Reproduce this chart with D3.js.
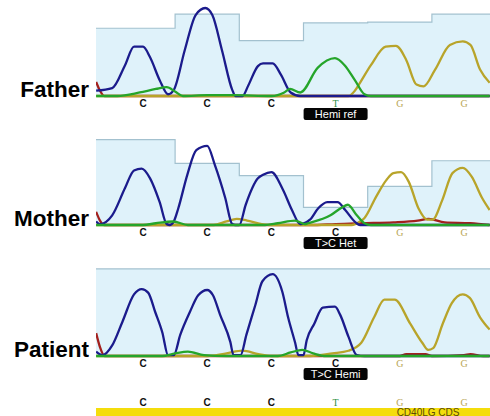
<!DOCTYPE html>
<html>
<head>
<meta charset="utf-8">
<script src="https://cdn.jsdelivr.net/npm/d3@7"></script>
<style>
  html, body { margin: 0; padding: 0; background: #fff; }
  svg { display: block; }
</style>
</head>
<body>
<svg id="chromatogram-svg" width="490" height="416"></svg>
<script>
(function() {
    // base positions (1 = first called base in the window)
    const positions = [1, 2, 3, 4, 5, 6];
    const refCalls = ["C", "C", "C", "T", "G", "G"];
    const fatherCalls = ["C", "C", "C", "T", "G", "G"];
    const motherCalls = ["C", "C", "C", "C", "G", "G"];
    const patientCalls = ["C", "C", "C", "C", "G", "G"];

    // quality bars, one per base
    const fatherQuality = [77, 93, 63, 83, 84, 93];
    const motherQuality = [97, 70, 56, 20, 44, 73];
    const patientQuality = [99, 99, 99, 99, 99, 99];

    // traces: [base position, signal 0-100]
    const fatherC = [[0.27,6],[0.52,9],[0.72,35],[0.86,56],[1.0,56],[1.11,44],[1.26,18],[1.39,2],[1.48,7],[1.65,52],[1.82,92],[1.97,100],[2.08,92],[2.23,52],[2.39,7],[2.44,0],[2.55,0],[2.64,12],[2.79,34],[2.87,37],[3.02,37],[3.15,24],[3.30,4],[3.45,0],[6.40,0]];
    const fatherT = [[0.27,0],[0.60,0],[0.95,4],[1.20,8],[1.37,10],[1.50,5],[1.62,0],[2.0,1],[2.4,1],[3.0,0],[3.20,4],[3.29,8],[3.45,4],[3.72,32],[3.99,43],[4.14,35],[4.30,18],[4.45,2],[4.55,0],[6.40,0]];
    const fatherG = [[0.27,0],[4.20,0],[4.30,6],[4.38,15],[4.55,35],[4.78,56],[4.94,57],[5.10,41],[5.26,13],[5.37,11],[5.55,30],[5.78,58],[5.98,62],[6.10,58],[6.25,30],[6.40,15]];
    const fatherA = [[0.27,16],[0.33,6],[0.40,0],[6.40,0]];

    const motherC = [[0.27,4],[0.33,1],[0.52,11],[0.72,42],[0.86,62],[0.98,64],[1.11,53],[1.26,26],[1.37,1],[1.42,0],[1.48,4],[1.55,19],[1.69,57],[1.83,85],[2.0,90],[2.12,68],[2.28,31],[2.39,1],[2.44,0],[2.50,0],[2.60,23],[2.79,53],[2.87,57],[3.0,60],[3.18,40],[3.32,17],[3.45,1],[3.60,6],[3.73,19],[3.87,26],[4.03,26],[4.15,17],[4.31,3],[4.38,0],[6.40,0]];
    const motherT = [[0.27,0],[1.0,0],[1.2,2],[1.47,4],[1.7,0],[2.9,0],[3.1,2],[3.37,5],[3.52,1],[3.57,2],[3.92,11],[4.10,20],[4.19,23],[4.33,11],[4.45,2],[4.55,0],[6.40,0]];
    const motherG = [[0.27,0],[2.10,0],[2.30,4],[2.46,7],[2.62,5],[2.85,1],[3.0,0],[4.25,0],[4.38,4],[4.45,8],[4.63,32],[4.79,51],[4.90,59],[5.02,60],[5.14,49],[5.29,19],[5.43,6],[5.51,6],[5.66,28],[5.82,59],[5.98,65],[6.12,55],[6.28,31],[6.40,17]];
    const motherA = [[0.27,15],[0.33,5],[0.40,0],[3.0,0],[3.6,0],[4.0,1],[4.40,2],[4.9,3],[5.28,5],[5.45,7],[5.7,3],[6.1,2],[6.40,0]];

    const patientC = [[0.27,5],[0.37,1],[0.52,12],[0.68,39],[0.86,70],[0.98,76],[1.08,72],[1.19,50],[1.30,27],[1.39,1],[1.48,1],[1.58,24],[1.73,50],[1.86,69],[2.0,75],[2.09,69],[2.20,47],[2.36,16],[2.41,1],[2.52,1],[2.61,24],[2.75,58],[2.86,85],[3.02,93],[3.17,73],[3.26,44],[3.37,15],[3.42,1],[3.50,1],[3.55,18],[3.67,37],[3.80,55],[3.99,56],[4.07,47],[4.20,22],[4.33,1],[4.45,0],[6.40,0]];
    const patientT = [[0.27,0],[1.3,0],[1.5,3],[1.70,5],[1.95,1],[2.3,0],[3.1,0],[3.30,4],[3.48,7],[3.65,3],[3.85,0],[6.40,0]];
    const patientG = [[0.27,0],[2.0,0],[2.3,3],[2.55,6],[2.8,2],[3.0,0],[3.6,0],[3.95,3],[4.20,6],[4.40,15],[4.60,44],[4.76,64],[4.92,64],[5.16,37],[5.35,15],[5.44,7],[5.52,9],[5.67,37],[5.81,60],[5.98,70],[6.09,66],[6.25,44],[6.40,30]];
    const patientA = [[0.27,26],[0.33,10],[0.40,0],[5.0,0],[5.1,2],[5.4,2],[5.5,0],[6.0,1],[6.1,2],[6.3,0],[6.40,0]];

    const width = 490;
    const left = 96;
    const peakHeight = 88;

    const panels = [
        { name: "Father", calls: fatherCalls, quality: fatherQuality, note: "Hemi ref", baseline: 96,
          traces: { C: fatherC, T: fatherT, G: fatherG, A: fatherA } },
        { name: "Mother", calls: motherCalls, quality: motherQuality, note: "T>C Het", baseline: 225,
          traces: { C: motherC, T: motherT, G: motherG, A: motherA } },
        { name: "Patient", calls: patientCalls, quality: patientQuality, note: "T>C Hemi", baseline: 356,
          traces: { C: patientC, T: patientT, G: patientG, A: patientA } }
    ];

    const traceColors = { C: "#1b1b8c", T: "#25a52a", G: "#b8a42a", A: "#a3201d" };
    const callColors = { C: "#111111", T: "#2f8f45", G: "#b9a655" };

    const svg = d3.select("#chromatogram-svg");

    const x = d3.scaleLinear()
        .domain([1, 6])
        .range([143, 464]);
    const xLeft = x.invert(left);
    const xRight = x.invert(width);

    svg.append("defs").append("clipPath")
        .attr("id", "plot-clip")
        .append("rect")
        .attr("x", left)
        .attr("y", 0)
        .attr("width", width - left)
        .attr("height", 416);

    panels.forEach(p => drawPanel(p));

    // reference row + CDS bar
    const refG = svg.append("g").attr("class", "reference");
    drawCalls(refG, refCalls, 406);

    refG.append("rect")
        .attr("x", left)
        .attr("y", 408)
        .attr("width", width - left)
        .attr("height", 8)
        .attr("fill", "#f4dd0c");

    refG.append("text")
        .attr("x", x(5.44))
        .attr("y", 415.5)
        .attr("text-anchor", "middle")
        .attr("font-family", "Liberation Sans, Arial, sans-serif")
        .attr("font-size", "10px")
        .attr("fill", "#5a4a08")
        .text("CD40LG CDS");

    function drawPanel(p) {
        const y = d3.scaleLinear()
            .domain([0, 100])
            .range([p.baseline, p.baseline - peakHeight]);

        const g = svg.append("g")
            .attr("class", "panel " + p.name.toLowerCase());

        // quality bars as a step area
        const qPoints = positions.map((pos, i) => [i === 0 ? xLeft : pos - 0.5, p.quality[i]]);
        qPoints.push([xRight, p.quality[p.quality.length - 1]]);

        g.append("path")
            .datum(qPoints)
            .attr("fill", "#dff2fa")
            .attr("d", d3.area()
                .curve(d3.curveStepAfter)
                .x(d => x(d[0]))
                .y0(p.baseline)
                .y1(d => y(d[1])));

        g.append("path")
            .datum(qPoints)
            .attr("fill", "none")
            .attr("stroke", "#a3c1cf")
            .attr("stroke-width", 1.2)
            .attr("d", d3.line()
                .curve(d3.curveStepAfter)
                .x(d => x(d[0]))
                .y(d => y(d[1])));

        const line = d3.line()
            .curve(d3.curveMonotoneX)
            .x(d => x(d[0]))
            .y(d => y(d[1]));

        const traceG = g.append("g").attr("clip-path", "url(#plot-clip)");
        ["A", "G", "C", "T"].forEach(base => {
            traceG.append("path")
                .datum(p.traces[base])
                .attr("fill", "none")
                .attr("stroke", traceColors[base])
                .attr("stroke-width", 2.3)
                .attr("stroke-linejoin", "round")
                .attr("d", line);
        });

        drawCalls(g, p.calls, p.baseline + 10.5);

        // variant tag
        const tag = g.append("g")
            .attr("transform", `translate(${x(4)}, ${p.baseline + 12})`);
        tag.append("rect")
            .attr("x", -32)
            .attr("y", 0)
            .attr("width", 64)
            .attr("height", 12)
            .attr("rx", 2)
            .attr("fill", "#050505");
        tag.append("text")
            .attr("x", 0)
            .attr("y", 10)
            .attr("text-anchor", "middle")
            .attr("font-family", "Liberation Sans, Arial, sans-serif")
            .attr("font-size", "11px")
            .attr("fill", "#ffffff")
            .text(p.note);

        g.append("text")
            .attr("x", 89)
            .attr("y", p.baseline + 1)
            .attr("text-anchor", "end")
            .attr("font-family", "Liberation Sans, Arial, sans-serif")
            .attr("font-weight", "bold")
            .attr("font-size", "22.5px")
            .attr("fill", "#000")
            .text(p.name);
    }

    function drawCalls(g, calls, yPos) {
        g.selectAll(null)
            .data(calls.map((c, i) => ({ call: c, pos: positions[i] })))
            .join("text")
            .attr("x", d => x(d.pos))
            .attr("y", yPos)
            .attr("text-anchor", "middle")
            .attr("font-family", d => d.call === "C" ? "Liberation Sans, Arial, sans-serif" : "Liberation Serif, serif")
            .attr("font-weight", d => d.call === "C" ? "bold" : "normal")
            .attr("font-size", "10px")
            .attr("fill", d => callColors[d.call])
            .text(d => d.call);
    }
})();
</script>
</body>
</html>
